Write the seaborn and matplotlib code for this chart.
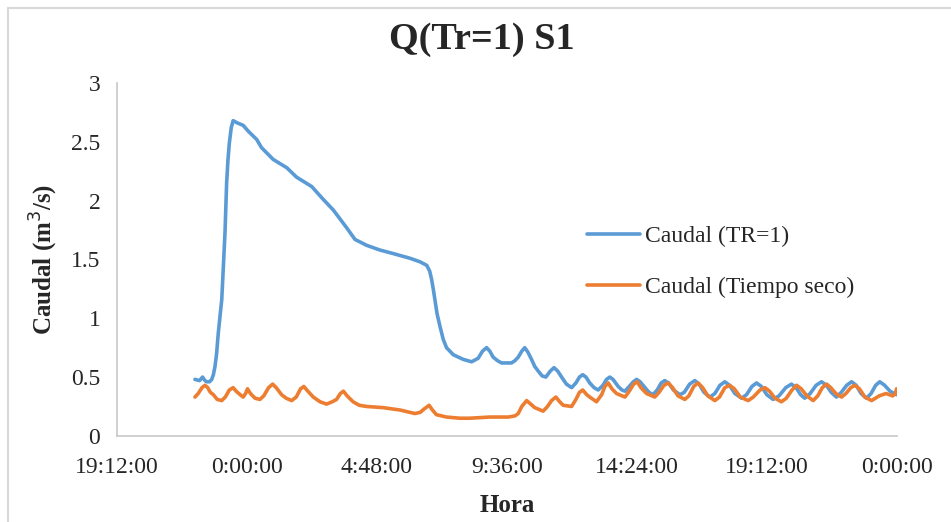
import matplotlib
matplotlib.use("Agg")
import matplotlib.pyplot as plt
import pandas as pd
import seaborn as sns

# time in hours from midnight, flow in m3/s
hora_tr1 = [-1.92, -1.75, -1.64, -1.55, -1.49, -1.38, -1.30, -1.24, -1.18, -1.12,
            -1.06, -1.00, -0.93, -0.87, -0.81, -0.75, -0.70, -0.65, -0.58, -0.51,
            -0.35, -0.14, 0.05, 0.36, 0.54, 0.97, 1.47, 1.83, 2.39, 2.82,
            3.19, 3.68, 3.99, 4.42, 4.91, 5.40, 6.02, 6.39, 6.64, 6.75,
            6.82, 6.88, 6.94, 7.02, 7.13, 7.25, 7.37, 7.62, 7.99, 8.30,
            8.54, 8.70, 8.85, 8.97, 9.09, 9.25, 9.40, 9.77, 9.90, 10.02,
            10.15, 10.26, 10.38, 10.51, 10.63, 10.76, 10.90, 11.04, 11.20, 11.34,
            11.48, 11.62, 11.80, 11.99, 12.15, 12.28, 12.40, 12.52, 12.66, 12.82,
            12.97, 13.15, 13.28, 13.40, 13.52, 13.71, 13.85, 13.96, 14.12, 14.27,
            14.39, 14.52, 14.70, 14.85, 15.00, 15.15, 15.30, 15.43, 15.57, 15.75,
            15.99, 16.15, 16.35, 16.54, 16.70, 16.88, 17.10, 17.28, 17.47, 17.65,
            17.82, 18.02, 18.27, 18.45, 18.65, 18.82, 19.00, 19.20, 19.43, 19.65,
            19.90, 20.11, 20.28, 20.45, 20.60, 20.80, 21.02, 21.22, 21.40, 21.58,
            21.77, 21.95, 22.15, 22.33, 22.50, 22.68, 22.88, 23.05, 23.22, 23.37,
            23.55, 23.75, 23.99]
caudal_tr1 = [0.48, 0.47, 0.50, 0.47, 0.46, 0.46, 0.48, 0.52, 0.59, 0.70,
              0.87, 1.00, 1.16, 1.45, 1.73, 2.15, 2.35, 2.49, 2.62, 2.68,
              2.66, 2.64, 2.59, 2.52, 2.45, 2.35, 2.28, 2.20, 2.12, 2.01,
              1.92, 1.77, 1.67, 1.62, 1.58, 1.55, 1.51, 1.48, 1.45, 1.40,
              1.33, 1.25, 1.16, 1.04, 0.93, 0.82, 0.75, 0.69, 0.65, 0.63,
              0.66, 0.72, 0.75, 0.72, 0.67, 0.64, 0.62, 0.62, 0.64, 0.67,
              0.72, 0.75, 0.71, 0.65, 0.59, 0.55, 0.51, 0.50, 0.55, 0.58,
              0.55, 0.50, 0.44, 0.41, 0.45, 0.50, 0.52, 0.50, 0.45, 0.41,
              0.39, 0.43, 0.48, 0.50, 0.48, 0.42, 0.39, 0.38, 0.42, 0.46,
              0.48, 0.46, 0.41, 0.37, 0.35, 0.39, 0.45, 0.47, 0.45, 0.39,
              0.35, 0.37, 0.44, 0.47, 0.44, 0.37, 0.33, 0.36, 0.43, 0.46,
              0.43, 0.36, 0.32, 0.35, 0.42, 0.45, 0.42, 0.35, 0.31, 0.34,
              0.41, 0.44, 0.41, 0.35, 0.32, 0.36, 0.43, 0.46, 0.43, 0.37,
              0.33, 0.37, 0.43, 0.46, 0.43, 0.36, 0.32, 0.36, 0.43, 0.46,
              0.43, 0.38, 0.35]

hora_seco = [-1.92, -1.80, -1.66, -1.55, -1.45, -1.35, -1.24, -1.10, -0.93, -0.80,
             -0.65, -0.51, -0.40, -0.25, -0.14, -0.05, 0.02, 0.10, 0.17, 0.30,
             0.48, 0.62, 0.80, 0.95, 1.08, 1.28, 1.45, 1.65, 1.82, 1.98,
             2.10, 2.25, 2.45, 2.70, 2.94, 3.15, 3.31, 3.45, 3.56, 3.70,
             3.92, 4.15, 4.42, 5.03, 5.65, 6.20, 6.40, 6.55, 6.73, 6.85,
             7.00, 7.37, 7.86, 8.23, 8.97, 9.65, 9.90, 10.02, 10.15, 10.33,
             10.48, 10.63, 10.94, 11.10, 11.25, 11.41, 11.55, 11.68, 11.99, 12.15,
             12.28, 12.40, 12.55, 12.66, 12.91, 13.10, 13.22, 13.34, 13.48, 13.65,
             13.96, 14.12, 14.28, 14.41, 14.55, 14.76, 15.06, 15.22, 15.40, 15.56,
             15.72, 15.92, 16.17, 16.32, 16.50, 16.66, 16.83, 17.02, 17.28, 17.45,
             17.65, 17.83, 18.00, 18.22, 18.51, 18.70, 18.95, 19.13, 19.30, 19.50,
             19.74, 19.92, 20.13, 20.30, 20.47, 20.68, 20.91, 21.08, 21.25, 21.41,
             21.56, 21.75, 21.96, 22.12, 22.30, 22.45, 22.62, 22.82, 23.07, 23.35,
             23.60, 23.85, 23.95, 23.99]
caudal_seco = [0.33, 0.36, 0.41, 0.43, 0.41, 0.37, 0.35, 0.31, 0.30, 0.33,
               0.39, 0.41, 0.38, 0.35, 0.33, 0.36, 0.40, 0.37, 0.35, 0.32,
               0.31, 0.34, 0.41, 0.44, 0.41, 0.35, 0.32, 0.30, 0.33, 0.40,
               0.42, 0.38, 0.33, 0.29, 0.27, 0.29, 0.31, 0.36, 0.38, 0.34,
               0.29, 0.26, 0.25, 0.24, 0.22, 0.19, 0.20, 0.23, 0.26, 0.22,
               0.18, 0.16, 0.15, 0.15, 0.16, 0.16, 0.17, 0.19, 0.25, 0.30,
               0.27, 0.24, 0.21, 0.25, 0.30, 0.33, 0.29, 0.26, 0.25, 0.31,
               0.37, 0.39, 0.35, 0.33, 0.29, 0.35, 0.42, 0.45, 0.40, 0.36,
               0.33, 0.38, 0.44, 0.46, 0.41, 0.36, 0.33, 0.37, 0.43, 0.45,
               0.41, 0.34, 0.31, 0.34, 0.42, 0.45, 0.41, 0.34, 0.30, 0.33,
               0.41, 0.43, 0.40, 0.33, 0.30, 0.33, 0.39, 0.41, 0.38, 0.32,
               0.29, 0.32, 0.39, 0.43, 0.40, 0.34, 0.30, 0.34, 0.41, 0.44,
               0.41, 0.36, 0.33, 0.36, 0.41, 0.43, 0.40, 0.33, 0.30, 0.34,
               0.36, 0.34, 0.36, 0.40]

series_names = ["Caudal (TR=1)", "Caudal (Tiempo seco)"]
tick_hours = [-4.8, 0, 4.8, 9.6, 14.4, 19.2, 24]
tick_labels = ["19:12:00", "0:00:00", "4:48:00", "9:36:00", "14:24:00", "19:12:00", "0:00:00"]

df = pd.concat([
    pd.DataFrame({"hora": hora_tr1, "caudal": caudal_tr1, "serie": series_names[0]}),
    pd.DataFrame({"hora": hora_seco, "caudal": caudal_seco, "serie": series_names[1]}),
])

sns.set_style("white")
plt.rcParams["font.family"] = ["Liberation Serif", "DejaVu Serif"]

fig = plt.figure(figsize=(9.51, 5.22), dpi=100)
ax = fig.add_axes([0.123, 0.165, 0.82, 0.676])

sns.lineplot(data=df, x="hora", y="caudal", hue="serie", ax=ax,
             palette=["#5B9BD5", "#ED7D31"], linewidth=2.6, sort=False,
             solid_joinstyle="round", solid_capstyle="round")

ax.set_xlim(-4.8, 24)
ax.set_ylim(0, 3)
ax.set_xticks(tick_hours)
ax.set_xticklabels(tick_labels)
ax.set_yticks([0, 0.5, 1, 1.5, 2, 2.5, 3])
ax.set_yticklabels(["0", "0.5", "1", "1.5", "2", "2.5", "3"])
ax.tick_params(axis="both", length=0, labelsize=17)
ax.tick_params(axis="x", pad=15)
ax.tick_params(axis="y", pad=12)

for side in ["top", "right"]:
    ax.spines[side].set_visible(False)
for side in ["left", "bottom"]:
    ax.spines[side].set_color("#C8C8C8")
    ax.spines[side].set_linewidth(1.2)

ax.set_xlabel("Hora", fontsize=18, fontweight="bold", labelpad=12)
ax.set_ylabel("Caudal (m$^3$/s)", fontsize=18, fontweight="bold", labelpad=8)
fig.suptitle("Q(Tr=1) S1", fontsize=27.5, fontweight="bold", x=0.507, y=0.958)

handles, labels = ax.get_legend_handles_labels()
ax.legend(handles, labels, loc="center left", bbox_to_anchor=(0.595, 0.499),
          bbox_transform=fig.transFigure, frameon=False, fontsize=17,
          handlelength=2.25, handletextpad=0.2, labelspacing=1.25)

# chart border
fig.patches.append(plt.Rectangle((8 / 951, -0.1), 1.2, 1 - 8 / 522 + 0.1,
                                 transform=fig.transFigure, fill=False,
                                 edgecolor="#D9D9D9", linewidth=1.5))

fig.savefig("out.png", dpi=100)
